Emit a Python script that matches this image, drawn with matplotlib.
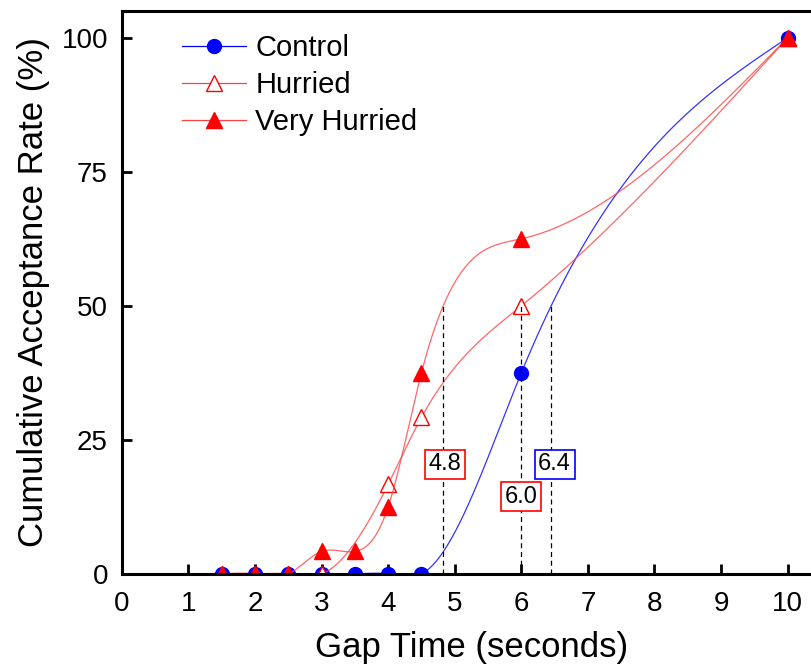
import numpy as np
import matplotlib
matplotlib.use("Agg")
import matplotlib.pyplot as plt

plt.rcParams["font.family"] = ["Liberation Sans", "DejaVu Sans"]

# data
gap_control = [1.5, 2, 2.5, 3, 3.5, 4, 4.5, 6, 10]
rate_control = [0, 0, 0, 0, 0, 0, 0, 37.5, 100]

gap_hurried = [1.5, 2, 2.5, 3, 4, 4.5, 6, 10]
rate_hurried = [0, 0, 0, 0, 16.7, 29.2, 50, 100]

gap_very = [1.5, 2, 2.5, 3, 3.5, 4, 4.5, 6, 10]
rate_very = [0, 0, 0, 4.2, 4.2, 12.5, 37.5, 62.5, 100]

# 50% crossing times and their label colours
cross_times = [4.83, 6.0, 6.45]
cross_labels = ["4.8", "6.0", "6.4"]
cross_colors = ["red", "red", "blue"]
label_pos = [(4.85, 20.5), (6.0, 14.4), (6.5, 20.5)]


def natural_spline(x, y, xs):
    # natural cubic spline through (x, y), evaluated at xs
    x = np.asarray(x, float)
    y = np.asarray(y, float)
    n = len(x)
    h = np.diff(x)
    A = np.zeros((n, n))
    b = np.zeros(n)
    A[0, 0] = A[-1, -1] = 1
    for i in range(1, n - 1):
        A[i, i - 1] = h[i - 1]
        A[i, i] = 2 * (h[i - 1] + h[i])
        A[i, i + 1] = h[i]
        b[i] = 6 * ((y[i + 1] - y[i]) / h[i] - (y[i] - y[i - 1]) / h[i - 1])
    M = np.linalg.solve(A, b)
    idx = np.clip(np.searchsorted(x, xs) - 1, 0, n - 2)
    x0, x1 = x[idx], x[idx + 1]
    hh = x1 - x0
    t0, t1 = x1 - xs, xs - x0
    return (M[idx] * t0 ** 3 / (6 * hh) + M[idx + 1] * t1 ** 3 / (6 * hh)
            + (y[idx] / hh - M[idx] * hh / 6) * t0
            + (y[idx + 1] / hh - M[idx + 1] * hh / 6) * t1)


fig = plt.figure(figsize=(8.12, 6.71), dpi=100)
ax = fig.add_axes([0.150, 0.1446, 0.861, 0.839])

series = [
    (gap_control, rate_control, "blue", dict(marker="o", mfc="blue", mec="blue", ms=10), "Control"),
    (gap_hurried, rate_hurried, "#ff4040", dict(marker="^", mfc="white", mec="red", ms=11), "Hurried"),
    (gap_very, rate_very, "#ff4040", dict(marker="^", mfc="red", mec="red", ms=11), "Very Hurried"),
]

for gx, gy, col, mk, name in series:
    xs = np.linspace(gx[0], gx[-1], 600)
    ax.plot(xs, natural_spline(gx, gy, xs), color=col, lw=0.9, alpha=0.8)
    ax.plot(gx, gy, linestyle="none", **mk)
    ax.plot([], [], color=col, lw=0.9, label=name, **mk)

for t, lab, col, (lx, ly) in zip(cross_times, cross_labels, cross_colors, label_pos):
    ax.plot([t, t], [0, 50], color="black", ls=(0, (4, 3)), lw=0.9)
    ax.text(lx, ly, lab, fontsize=17, ha="center", va="center",
            bbox=dict(boxstyle="square,pad=0.15", fc="white", ec=col, lw=1.2))

ax.set_xlim(0, 10.5)
ax.set_ylim(0, 105)
ax.set_xticks(range(0, 11))
ax.set_yticks([0, 25, 50, 75, 100])
ax.tick_params(direction="in", length=7, width=2, labelsize=20)
ax.tick_params(axis="x", pad=12)
ax.tick_params(axis="y", pad=10)
for s in ax.spines.values():
    s.set_linewidth(2.2)

ax.set_xlabel("Gap Time (seconds)", fontsize=25, labelpad=10)
ax.set_ylabel("Cumulative Acceptance Rate (%)", fontsize=25, labelpad=8)

leg = ax.legend(loc="upper left", bbox_to_anchor=(0.049, 1.005), frameon=False,
                fontsize=21, handlelength=2.2, labelspacing=0.3, handletextpad=0.3)

fig.savefig("out.png", dpi=100)
